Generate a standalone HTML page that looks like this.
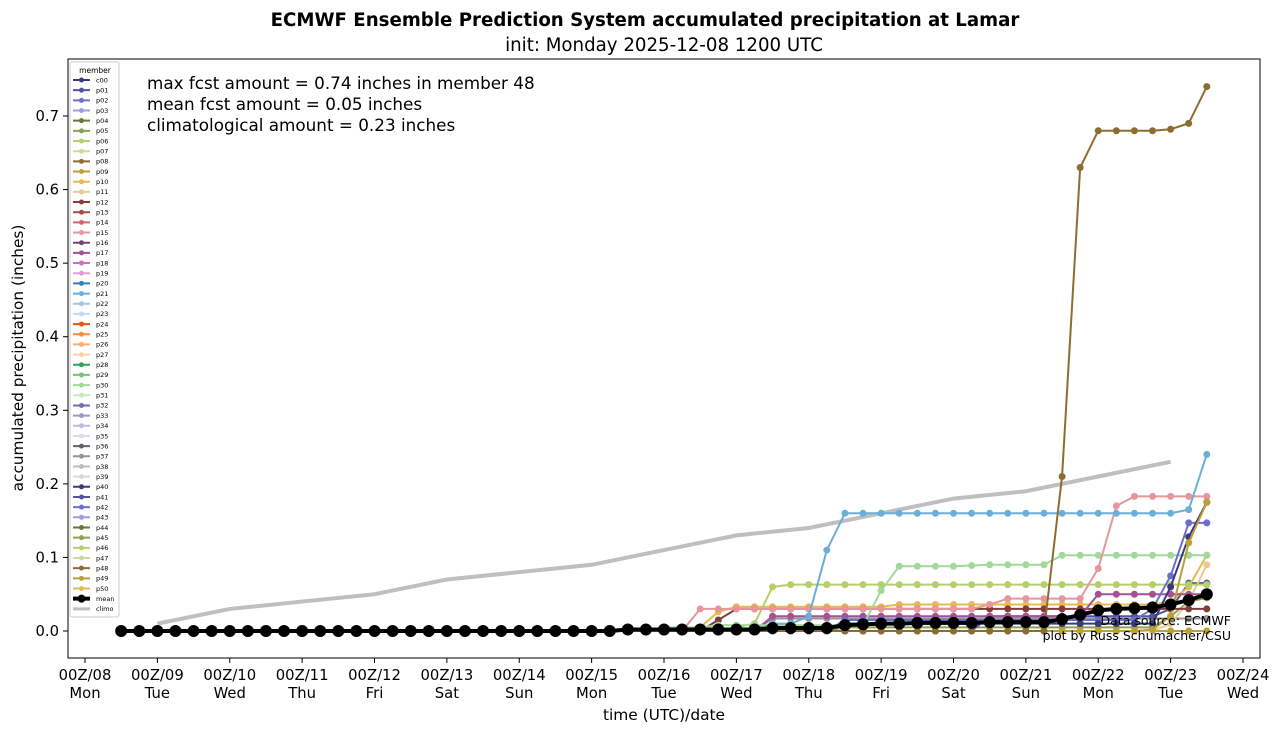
<!DOCTYPE html>
<html><head><meta charset="utf-8"><style>
body{margin:0;background:#fff;}
svg text{font-family:"DejaVu Sans","Liberation Sans",sans-serif;}
</style></head><body>
<svg id="chart" width="1280" height="733" xmlns="http://www.w3.org/2000/svg">
<text x="645" y="26" text-anchor="middle" font-size="18.2" font-weight="bold">ECMWF Ensemble Prediction System accumulated precipitation at Lamar</text>
<text x="664" y="51" text-anchor="middle" font-size="18.2">init: Monday 2025-12-08 1200 UTC</text>
<rect x="68" y="59" width="1192" height="599" fill="#fff" stroke="#000" stroke-width="1"/>
<g id="grid"></g><g id="series"></g><g id="axes"></g><g id="legend"></g>
<text x="147" y="89" font-size="16.8">max fcst amount = 0.74 inches in member 48</text>
<text x="147" y="110" font-size="16.8">mean fcst amount = 0.05 inches</text>
<text x="147" y="131" font-size="16.8">climatological amount = 0.23 inches</text>
<text x="1231" y="625" text-anchor="end" font-size="12.5">Data source: ECMWF</text>
<text x="1231" y="640" text-anchor="end" font-size="12.5">plot by Russ Schumacher/CSU</text>
<text x="664" y="720" text-anchor="middle" font-size="15.4">time (UTC)/date</text>
<text transform="translate(23,358) rotate(-90)" text-anchor="middle" font-size="15.3">accumulated precipitation (inches)</text>
</svg>
<script>
const xTickLabels=["00Z/08","00Z/09","00Z/10","00Z/11","00Z/12","00Z/13","00Z/14","00Z/15","00Z/16","00Z/17","00Z/18","00Z/19","00Z/20","00Z/21","00Z/22","00Z/23","00Z/24"];
const dayLabels=["Mon","Tue","Wed","Thu","Fri","Sat","Sun","Mon","Tue","Wed","Thu","Fri","Sat","Sun","Mon","Tue","Wed"];
const yTicks=[0,0.1,0.2,0.3,0.4,0.5,0.6,0.7];
const climoDays=[1,2,3,4,5,6,7,8,9,10,11,12,13,14,15];
const climoVals=[0.01,0.03,0.04,0.05,0.07,0.08,0.09,0.11,0.13,0.14,0.16,0.18,0.19,0.21,0.23];
const p48=[0,0,0,0,0,0,0,0,0,0, 0,0,0,0,0,0,0,0,0,0, 0,0,0,0,0,0,0,0,0,0, 0,0,0,0,0,0,0,0,0,0, 0,0,0,0,0,0,0,0,0,0, 0,0,0.21,0.63,0.68,0.68,0.68,0.68,0.682,0.69,0.74];
const p21=[0,0,0,0,0,0,0,0,0,0, 0,0,0,0,0,0,0,0,0,0, 0,0,0,0,0,0,0,0,0,0, 0,0,0,0,0,0,0.01,0.01,0.02,0.11, 0.16,0.16,0.16,0.16,0.16,0.16,0.16,0.16,0.16,0.16, 0.16,0.16,0.16,0.16,0.16,0.16,0.16,0.16,0.16,0.165,0.24];
const p30=[0,0,0,0,0,0,0,0,0,0, 0,0,0,0,0,0,0,0,0,0, 0,0,0,0,0,0,0,0,0,0, 0.005,0.005,0.005,0.008,0.008,0.008,0.008,0.008,0.008,0.008, 0.008,0.008,0.055,0.088,0.088,0.088,0.088,0.089,0.09,0.09, 0.09,0.09,0.103,0.103,0.103,0.103,0.103,0.103,0.103,0.103,0.103];
const p46=[0,0,0,0,0,0,0,0,0,0, 0,0,0,0,0,0,0,0,0,0, 0,0,0,0,0,0,0,0,0,0, 0,0,0,0,0.005,0.01,0.06,0.063,0.063,0.063, 0.063,0.063,0.063,0.063,0.063,0.063,0.063,0.063,0.063,0.063, 0.063,0.063,0.063,0.063,0.063,0.063,0.063,0.063,0.063,0.063,0.063];
const p15=[0,0,0,0,0,0,0,0,0,0, 0,0,0,0,0,0,0,0,0,0, 0,0,0,0,0,0,0,0,0,0, 0,0,0.03,0.03,0.03,0.03,0.03,0.03,0.03,0.03, 0.03,0.03,0.03,0.03,0.03,0.03,0.03,0.03,0.036,0.044, 0.044,0.044,0.044,0.044,0.085,0.17,0.183,0.183,0.183,0.183,0.183];
const p12=[0,0,0,0,0,0,0,0,0,0, 0,0,0,0,0,0,0,0,0,0, 0,0,0,0,0,0,0,0,0,0, 0,0,0,0.015,0.03,0.03,0.03,0.03,0.03,0.03, 0.03,0.03,0.03,0.03,0.03,0.03,0.03,0.03,0.03,0.03, 0.03,0.03,0.03,0.03,0.03,0.03,0.03,0.03,0.03,0.03,0.03];
const p10=[0,0,0,0,0,0,0,0,0,0, 0,0,0,0,0,0,0,0,0,0, 0,0,0,0,0,0,0,0,0,0, 0,0,0.005,0.026,0.033,0.033,0.033,0.033,0.033,0.033, 0.033,0.033,0.033,0.036,0.036,0.036,0.036,0.036,0.036,0.036, 0.036,0.036,0.036,0.036,0.036,0.036,0.036,0.036,0.04,0.06,0.103];
const p17=[0,0,0,0,0,0,0,0,0,0, 0,0,0,0,0,0,0,0,0,0, 0,0,0,0,0,0,0,0,0,0, 0,0,0,0,0,0,0.02,0.02,0.02,0.02, 0.02,0.02,0.02,0.02,0.02,0.02,0.02,0.02,0.02,0.02, 0.02,0.02,0.02,0.02,0.05,0.05,0.05,0.05,0.05,0.05,0.05];
const p02=[0,0,0,0,0,0,0,0,0,0, 0,0,0,0,0,0,0,0,0,0, 0,0,0,0,0,0,0,0,0,0, 0,0,0,0,0,0,0,0,0,0, 0.015,0.015,0.015,0.015,0.015,0.015,0.015,0.015,0.015,0.015, 0.015,0.015,0.015,0.015,0.015,0.015,0.015,0.03,0.075,0.147,0.147];
const p40=[0,0,0,0,0,0,0,0,0,0, 0,0,0,0,0,0,0,0,0,0, 0,0,0,0,0,0,0,0,0,0, 0,0,0,0,0,0,0,0,0,0, 0.01,0.01,0.01,0.01,0.01,0.01,0.01,0.01,0.01,0.01, 0.01,0.01,0.01,0.01,0.01,0.01,0.01,0.01,0.06,0.128,0.175];
const p09=[0,0,0,0,0,0,0,0,0,0, 0,0,0,0,0,0,0,0,0,0, 0,0,0,0,0,0,0,0,0,0, 0,0,0,0,0,0,0,0,0,0, 0,0,0,0,0,0,0,0,0,0, 0,0,0,0,0,0,0,0.002,0.02,0.12,0.175];
const p11=[0,0,0,0,0,0,0,0,0,0, 0,0,0,0,0,0,0,0,0,0, 0,0,0,0,0,0,0,0,0,0, 0,0,0,0,0,0,0,0,0,0, 0,0,0,0,0,0,0,0,0,0, 0,0,0,0,0,0,0,0,0.01,0.04,0.09];
const p37=[0,0,0,0,0,0,0,0,0,0, 0,0,0,0,0,0,0,0,0,0, 0,0,0,0,0,0,0,0,0,0, 0,0,0,0,0,0,0.017,0.017,0.017,0.017, 0.017,0.017,0.017,0.017,0.017,0.017,0.017,0.017,0.017,0.017, 0.017,0.017,0.017,0.017,0.017,0.017,0.017,0.017,0.017,0.017,0.017];
const p41=[0,0,0,0,0,0,0,0,0,0, 0,0,0,0,0,0,0,0,0,0, 0,0,0,0,0,0,0,0,0,0, 0,0,0,0,0,0,0,0,0,0, 0,0,0,0,0,0,0,0,0.02,0.02, 0.02,0.02,0.02,0.02,0.02,0.02,0.02,0.02,0.03,0.065,0.065];
const p45=[0,0,0,0,0,0,0,0,0,0, 0,0,0,0,0,0,0,0,0,0, 0,0,0,0,0,0,0,0,0,0, 0,0,0,0,0,0,0,0,0,0, 0.005,0.005,0.005,0.005,0.005,0.005,0.005,0.005,0.005,0.005, 0.005,0.005,0.005,0.005,0.005,0.005,0.005,0.005,0.02,0.04,0.045];
const p49=[0,0,0,0,0,0,0,0,0,0, 0,0,0,0,0,0,0,0,0,0, 0,0,0,0,0,0,0,0,0,0, 0,0,0,0,0,0,0,0,0,0, 0,0,0,0,0,0,0,0,0,0, 0,0,0,0,0,0,0,0,0,0,0];
const meanVals=[0,0,0,0,0,0,0,0,0,0, 0,0,0,0,0,0,0,0,0,0, 0,0,0,0,0,0,0,0,0.002,0.002, 0.002,0.002,0.002,0.002,0.002,0.002,0.004,0.004,0.004,0.004, 0.008,0.009,0.01,0.01,0.011,0.011,0.011,0.011,0.012,0.012, 0.012,0.012,0.016,0.022,0.028,0.03,0.031,0.032,0.036,0.042,0.05];
const memberNames=["c00","p01","p02","p03","p04","p05","p06","p07","p08","p09","p10","p11","p12","p13","p14","p15","p16","p17","p18","p19","p20","p21","p22","p23","p24","p25","p26","p27","p28","p29","p30","p31","p32","p33","p34","p35","p36","p37","p38","p39","p40","p41","p42","p43","p44","p45","p46","p47","p48","p49","p50"];
const colors=["#393b79","#5254a3","#6b6ecf","#9c9ede","#637939","#8ca252","#b5cf6b","#cedb9c","#8c6d31","#bd9e39","#e7ba52","#e7cb94","#843c39","#ad494a","#d6616b","#e7969c","#7b4173","#a55194","#ce6dbd","#de9ed6","#3182bd","#6baed6","#9ecae1","#c6dbef","#e6550d","#fd8d3c","#fdae6b","#fdd0a2","#31a354","#74c476","#a1d99b","#c7e9c0","#756bb1","#9e9ac8","#bcbddc","#dadaeb","#636363","#969696","#bdbdbd","#d9d9d9","#393b79","#5254a3","#6b6ecf","#9c9ede","#637939","#8ca252","#b5cf6b","#cedb9c","#8c6d31","#bd9e39","#e7ba52"];
const drawn=[["p49",p49],["p45",p45],["p37",p37],["p41",p41],["p11",p11],["p10",p10],["p12",p12],["p17",p17],["p46",p46],["p30",p30],["p15",p15],["p21",p21],["p02",p02],["p40",p40],["p09",p09],["p48",p48]];

const NS="http://www.w3.org/2000/svg";
const X0=85,DAY=72.375,Y0=631,YS=735.7;
const xDay=d=>X0+d*DAY;
const xIdx=i=>X0+(0.5+i*0.25)*DAY;
const y=v=>Y0-v*YS;
function mk(tag,attrs,parent){const e=document.createElementNS(NS,tag);for(const k in attrs)e.setAttribute(k,attrs[k]);parent.appendChild(e);return e;}
const axes=document.getElementById('axes'),ser=document.getElementById('series'),leg=document.getElementById('legend');
xTickLabels.forEach((t,i)=>{
  const xx=xDay(i);
  const tk=mk('line',{x1:xx,x2:xx,y1:658,y2:663,stroke:'#000'},axes);
  
  
  const tx=mk('text',{x:xx,y:680,'text-anchor':'middle','font-size':14.8},axes);tx.textContent=t;
  
  
  const dx=mk('text',{x:xx,y:698,'text-anchor':'middle','font-size':14.8},axes);dx.textContent=dayLabels[i];
  
  
});
yTicks.forEach(v=>{
  const yy=y(v);
  const tk=mk('line',{x1:63,x2:68,y1:yy,y2:yy,stroke:'#000'},axes);
  
  
  const tx=mk('text',{x:59,y:yy+5,'text-anchor':'end','font-size':14.8},axes);tx.textContent=v.toFixed(1);
  
  
});
const cl=mk('polyline',{points:climoDays.map((d,i)=>xDay(d)+','+y(climoVals[i])).join(' '),fill:'none',stroke:'#bfbfbf','stroke-width':4},ser);


function drawSeries(name,vals,col,lw,r){
  const g=mk('g',{},ser);
  
  
  mk('polyline',{points:vals.map((v,i)=>xIdx(i)+','+y(v)).join(' '),fill:'none',stroke:col,'stroke-width':lw,'stroke-linejoin':'round'},g);
  vals.forEach((v,i)=>{mk('circle',{cx:xIdx(i),cy:y(v),r:r,fill:col},g);});
}
drawn.forEach(([n,v])=>drawSeries(n,v,colors[memberNames.indexOf(n)],2,3.5));
drawSeries('mean',meanVals,'#000',4,6);
const lb=mk('rect',{x:70,y:62,width:49,height:555,fill:'#fff',stroke:'#ccc','fill-opacity':0.8,rx:2},leg);


const lt=mk('text',{x:95,y:73,'text-anchor':'middle','font-size':7.5},leg);lt.textContent='member';


const entries=memberNames.map((n,i)=>[n,colors[i]]).concat([["mean","#000"],["climo","#bfbfbf"]]);
entries.forEach(([n,c],i)=>{
  const yy=80+i*10.17;
  const g=mk('g',{},leg);
  
  
  mk('line',{x1:73,x2:90,y1:yy,y2:yy,stroke:c,'stroke-width':n==='mean'?4:(n==='climo'?3:2)},g);
  if(n!=='climo')mk('circle',{cx:81.5,cy:yy,r:n==='mean'?4:2.5,fill:c},g);
  const t=mk('text',{x:96,y:yy+2.3,'font-size':6.5},g);t.textContent=n;
});
</script>
</body></html>
